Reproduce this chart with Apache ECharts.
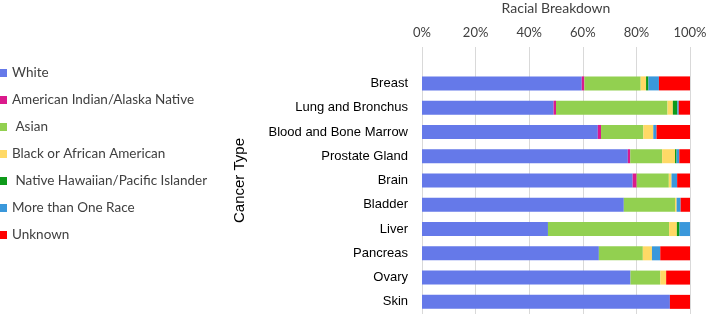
<!DOCTYPE html>
<html>
<head>
<meta charset="utf-8">
<script src="https://cdn.jsdelivr.net/npm/echarts@6/dist/echarts.min.js"></script>
<style>
  html, body { margin: 0; padding: 0; background: #fff; }
  #chart { width: 709px; height: 314px; }
</style>
</head>
<body>
<div id="chart"></div>
<script>
// cancer types, top to bottom
const cancerTypes = ['Breast', 'Lung and Bronchus', 'Blood and Bone Marrow', 'Prostate Gland', 'Brain',
  'Bladder', 'Liver', 'Pancreas', 'Ovary', 'Skin'];

// percent of each race per cancer type
const white = [59.6, 49.1, 65.6, 76.8, 78.6, 75.3, 47.0, 66.0, 77.8, 92.5];
const aian = [1.0, 0.9, 1.2, 0.9, 1.5, 0, 0, 0, 0, 0];
const asian = [21.0, 41.6, 15.8, 11.9, 12.0, 19.1, 45.2, 16.4, 11.1, 0];
const black = [2.0, 2.0, 3.7, 4.8, 1.0, 0.6, 2.9, 3.4, 2.2, 0];
const nhpi = [0.9, 1.7, 0, 0.6, 0, 0, 1.0, 0, 0, 0];
const multi = [3.9, 0.5, 1.2, 1.0, 2.1, 1.5, 4.0, 3.1, 0, 0];
const unknown = [11.6, 4.2, 12.5, 4.0, 4.8, 3.5, 0, 11.1, 8.9, 7.5];

const xTicks = [0, 20, 40, 60, 80, 100];

const races = [
  { name: 'White', data: white, color: '#6579E9' },
  { name: 'American Indian/Alaska Native', data: aian, color: '#DB1A8C' },
  { name: ' Asian', data: asian, color: '#92D050' },
  { name: 'Black or African American', data: black, color: '#FFD966' },
  { name: ' Native Hawaiian/Pacific Islander', data: nhpi, color: '#0E9A1A' },
  { name: 'More than One Race', data: multi, color: '#3A98DB' },
  { name: 'Unknown', data: unknown, color: '#FF0000' }
];

const chart = echarts.init(document.getElementById('chart'));

// excel leaves an empty band above the first bar
const yData = [''].concat(cancerTypes);

chart.setOption({
  animation: false,
  legend: {
    orient: 'vertical',
    left: -1,
    top: 66,
    padding: 0,
    itemWidth: 8,
    itemHeight: 8,
    itemGap: 13,
    icon: 'rect',
    textStyle: { fontFamily: 'Lato', fontSize: 13.5, color: '#404040', lineHeight: 14 },
    data: races.map(r => r.name)
  },
  grid: { left: 422, right: 19, top: 47, bottom: 0, containLabel: false, outerBoundsMode: 'none' },
  xAxis: {
    type: 'value',
    position: 'top',
    min: xTicks[0],
    max: xTicks[xTicks.length - 1],
    interval: 20,
    name: 'Racial Breakdown',
    nameLocation: 'middle',
    nameGap: 32,
    nameTextStyle: { fontFamily: 'Lato', fontSize: 14, color: '#404040' },
    axisLine: { show: false },
    axisTick: { show: false },
    axisLabel: { formatter: '{value}%', fontFamily: 'Lato', fontSize: 13, color: '#404040', margin: 8 },
    splitLine: { lineStyle: { color: '#D9D9D9', width: 1 } }
  },
  yAxis: {
    type: 'category',
    inverse: true,
    data: yData,
    name: 'Cancer Type',
    nameLocation: 'middle',
    nameRotate: 90,
    nameGap: 175,
    nameTextStyle: { fontFamily: 'Liberation Sans', fontSize: 15, color: '#000' },
    axisLine: { show: false },
    axisTick: { show: false },
    axisLabel: { fontFamily: 'Liberation Sans', fontSize: 13, color: '#000', margin: 14 },
    splitLine: { show: false }
  },
  series: races.map(r => ({
    name: r.name,
    type: 'bar',
    stack: 'total',
    barWidth: 14,
    itemStyle: { color: r.color },
    data: [null].concat(r.data)
  }))
});
</script>
</body>
</html>
